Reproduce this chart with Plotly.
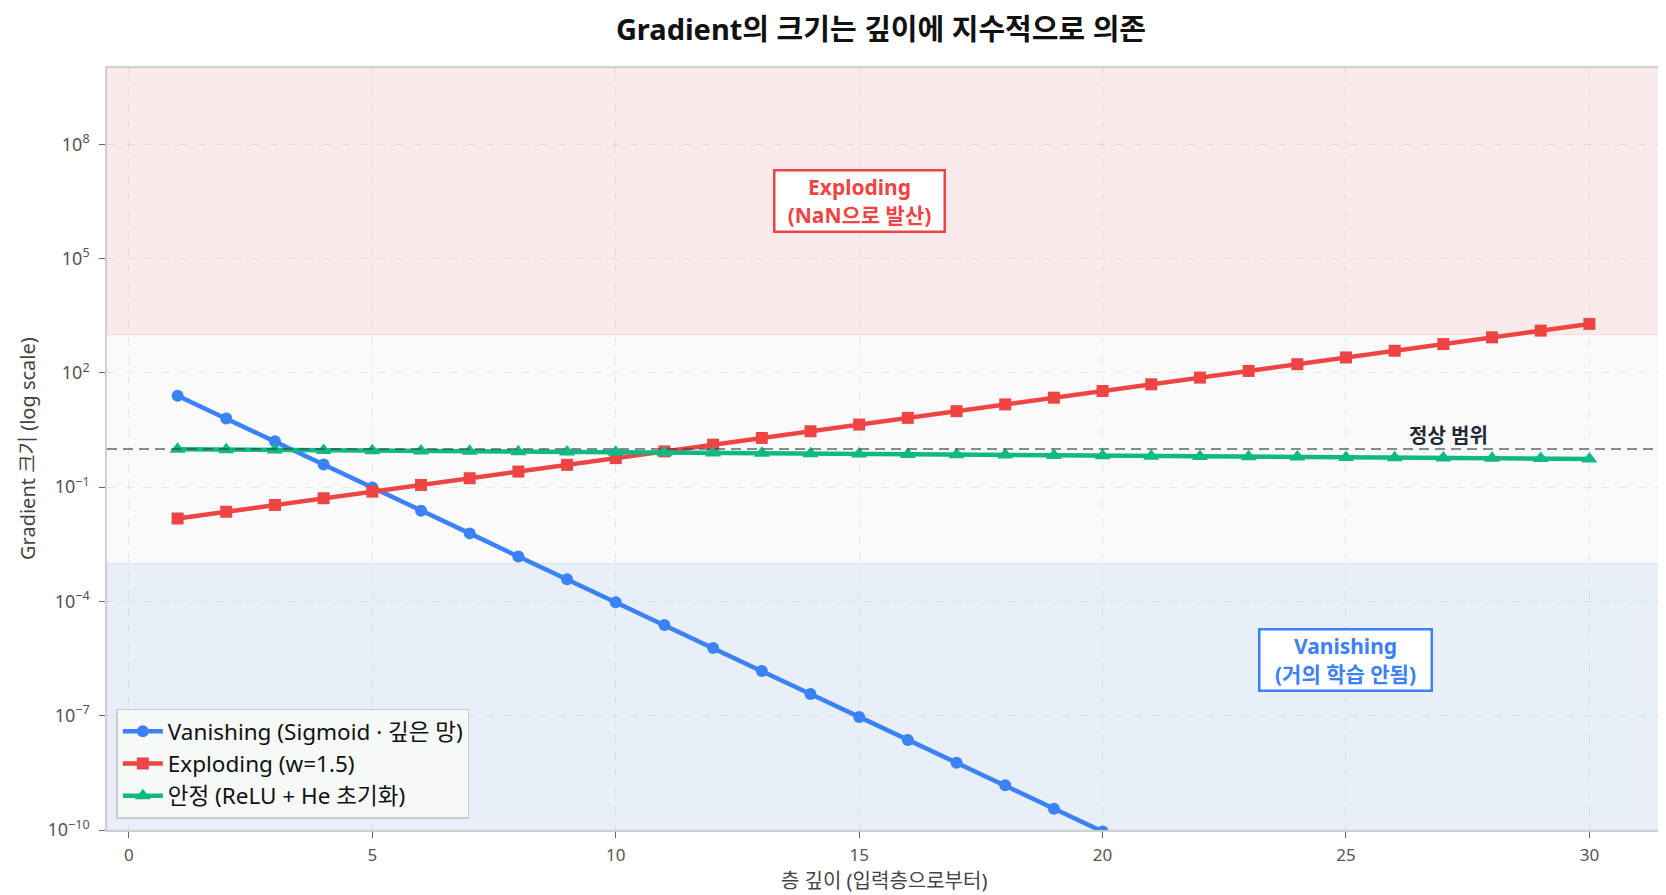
import plotly.graph_objects as go

depth = list(range(1, 31))
vanishing = [25, 6.3, 1.6, 0.39, 0.098, 0.024, 0.0061, 0.0015, 3.8e-4, 9.5e-5,
             2.4e-5, 6.0e-6, 1.5e-6, 3.7e-7, 9.3e-8, 2.3e-8, 5.8e-9, 1.5e-9, 3.6e-10, 9.1e-11,
             2.3e-11, 5.7e-12, 1.4e-12, 3.6e-13, 8.9e-14, 2.2e-14, 5.6e-15, 1.4e-15, 3.5e-16, 8.7e-17]
exploding = [0.015, 0.0225, 0.034, 0.051, 0.076, 0.114, 0.171, 0.256, 0.384, 0.577,
             0.865, 1.30, 1.95, 2.92, 4.38, 6.57, 9.85, 14.8, 22.2, 33.3,
             49.9, 74.8, 112, 168, 253, 379, 568, 852, 1279, 1918]
stable = [0.98, 0.96, 0.94, 0.92, 0.90, 0.89, 0.87, 0.85, 0.83, 0.82,
          0.80, 0.78, 0.77, 0.75, 0.74, 0.72, 0.71, 0.70, 0.68, 0.67,
          0.65, 0.64, 0.63, 0.62, 0.60, 0.59, 0.58, 0.57, 0.56, 0.55]

names = ["Vanishing (Sigmoid · 깊은 망)", "Exploding (w=1.5)", "안정 (ReLU + He 초기화)"]
colors = ["#3b82f6", "#ef4444", "#10b981"]
symbols = ["circle", "square", "triangle-up"]
msizes = [12, 12, 14]

x_ticks = [0, 5, 10, 15, 20, 25, 30]
y_tickvals = [1e-10, 1e-7, 1e-4, 1e-1, 1e2, 1e5, 1e8]
y_ticktext = ["10<sup>−10</sup>", "10<sup>−7</sup>", "10<sup>−4</sup>", "10<sup>−1</sup>",
              "10<sup>2</sup>", "10<sup>5</sup>", "10<sup>8</sup>"]

FONT = "Noto Sans, Noto Sans CJK KR"

fig = go.Figure()
for ys, nm, c, s, ms in zip([vanishing, exploding, stable], names, colors, symbols, msizes):
    fig.add_trace(go.Scatter(x=depth, y=ys, name=nm, mode="lines+markers",
                             line=dict(color=c, width=4.5),
                             marker=dict(symbol=s, size=ms, color=c)))

# bands
fig.add_shape(type="rect", xref="paper", yref="y", x0=0, x1=1, y0=1e3, y1=1e10,
              fillcolor="rgba(239,68,68,0.08)", line=dict(width=1, color="rgba(239,68,68,0.12)"), layer="below")
fig.add_shape(type="rect", xref="paper", yref="y", x0=0, x1=1, y0=1e-10, y1=1e-3,
              fillcolor="rgba(59,130,246,0.09)", line=dict(width=1, color="rgba(59,130,246,0.12)"), layer="below")
# normal line
fig.add_shape(type="line", xref="paper", yref="y", x0=0, x1=1, y0=1, y1=1,
              line=dict(color="rgba(55,65,81,0.6)", width=2, dash="10px,6px"), layer="above")

fig.add_annotation(x=15, y=6.52, text="<b>Exploding<br>(NaN으로 발산)</b>", showarrow=False,
                   font=dict(family=FONT, size=21, color="#ef4444"), width=164, height=55,
                   bgcolor="white", bordercolor="#ef4444", borderwidth=2.5, borderpad=2)
fig.add_annotation(x=25, y=-5.55, text="<b>Vanishing<br>(거의 학습 안됨)</b>", showarrow=False,
                   font=dict(family=FONT, size=21, color="#3b82f6"), width=166, height=55,
                   bgcolor="white", bordercolor="#3b82f6", borderwidth=2.5, borderpad=2)
fig.add_annotation(x=27.1, y=0, text="<b>정상 범위</b>", showarrow=False, yanchor="bottom", yshift=-2,
                   font=dict(family=FONT, size=20, color="#1f2937"))
# axis titles
fig.add_annotation(xref="paper", yref="paper", x=0.5, y=0, yshift=-50, yanchor="middle",
                   text="층 깊이 (입력층으로부터)", showarrow=False,
                   font=dict(family=FONT, size=20, color="#444"))
fig.add_annotation(xref="paper", yref="paper", x=0, y=0.5, xshift=-80, xanchor="center",
                   textangle=-90, text="Gradient 크기 (log scale)", showarrow=False,
                   font=dict(family=FONT, size=20, color="#444"))

fig.update_layout(
    width=1666, height=895,
    margin=dict(l=99, r=14, t=60, b=73),
    paper_bgcolor="white", plot_bgcolor="#fafafa",
    font=dict(family=FONT, color="#444"),
    title=dict(text="<b>Gradient의 크기는 깊이에 지수적으로 의존</b>", x=0.524, xanchor="center",
               y=0.9755, yanchor="middle", font=dict(family=FONT, size=29, color="#111")),
    showlegend=True,
    legend=dict(x=0.006, y=0.015, xanchor="left", yanchor="bottom",
                bgcolor="rgba(248,248,248,0.95)", bordercolor="#cccccc", borderwidth=1.5,
                font=dict(family=FONT, size=22.5, color="#111"), itemwidth=40),
)
fig.update_xaxes(range=[-0.45, 31.45], tickvals=x_ticks, ticks="outside", ticklen=6, tickcolor="#666",
                 ticklabelstandoff=3,
                 showgrid=True, gridcolor="rgba(0,0,0,0.07)", griddash="dash", zeroline=False,
                 showline=True, linecolor="#d0d0d0", linewidth=1.5, mirror=True,
                 tickfont=dict(size=17, color="#555"))
fig.update_yaxes(type="log", range=[-10, 10], tickvals=y_tickvals, ticktext=y_ticktext,
                 ticks="outside", ticklen=6, tickcolor="#666", ticklabelstandoff=6,
                 showgrid=True, gridcolor="rgba(0,0,0,0.07)", griddash="dash", zeroline=False,
                 showline=True, linecolor="#d0d0d0", linewidth=1.5, mirror=True,
                 tickfont=dict(size=18, color="#555"))

fig.write_html("out.html")
